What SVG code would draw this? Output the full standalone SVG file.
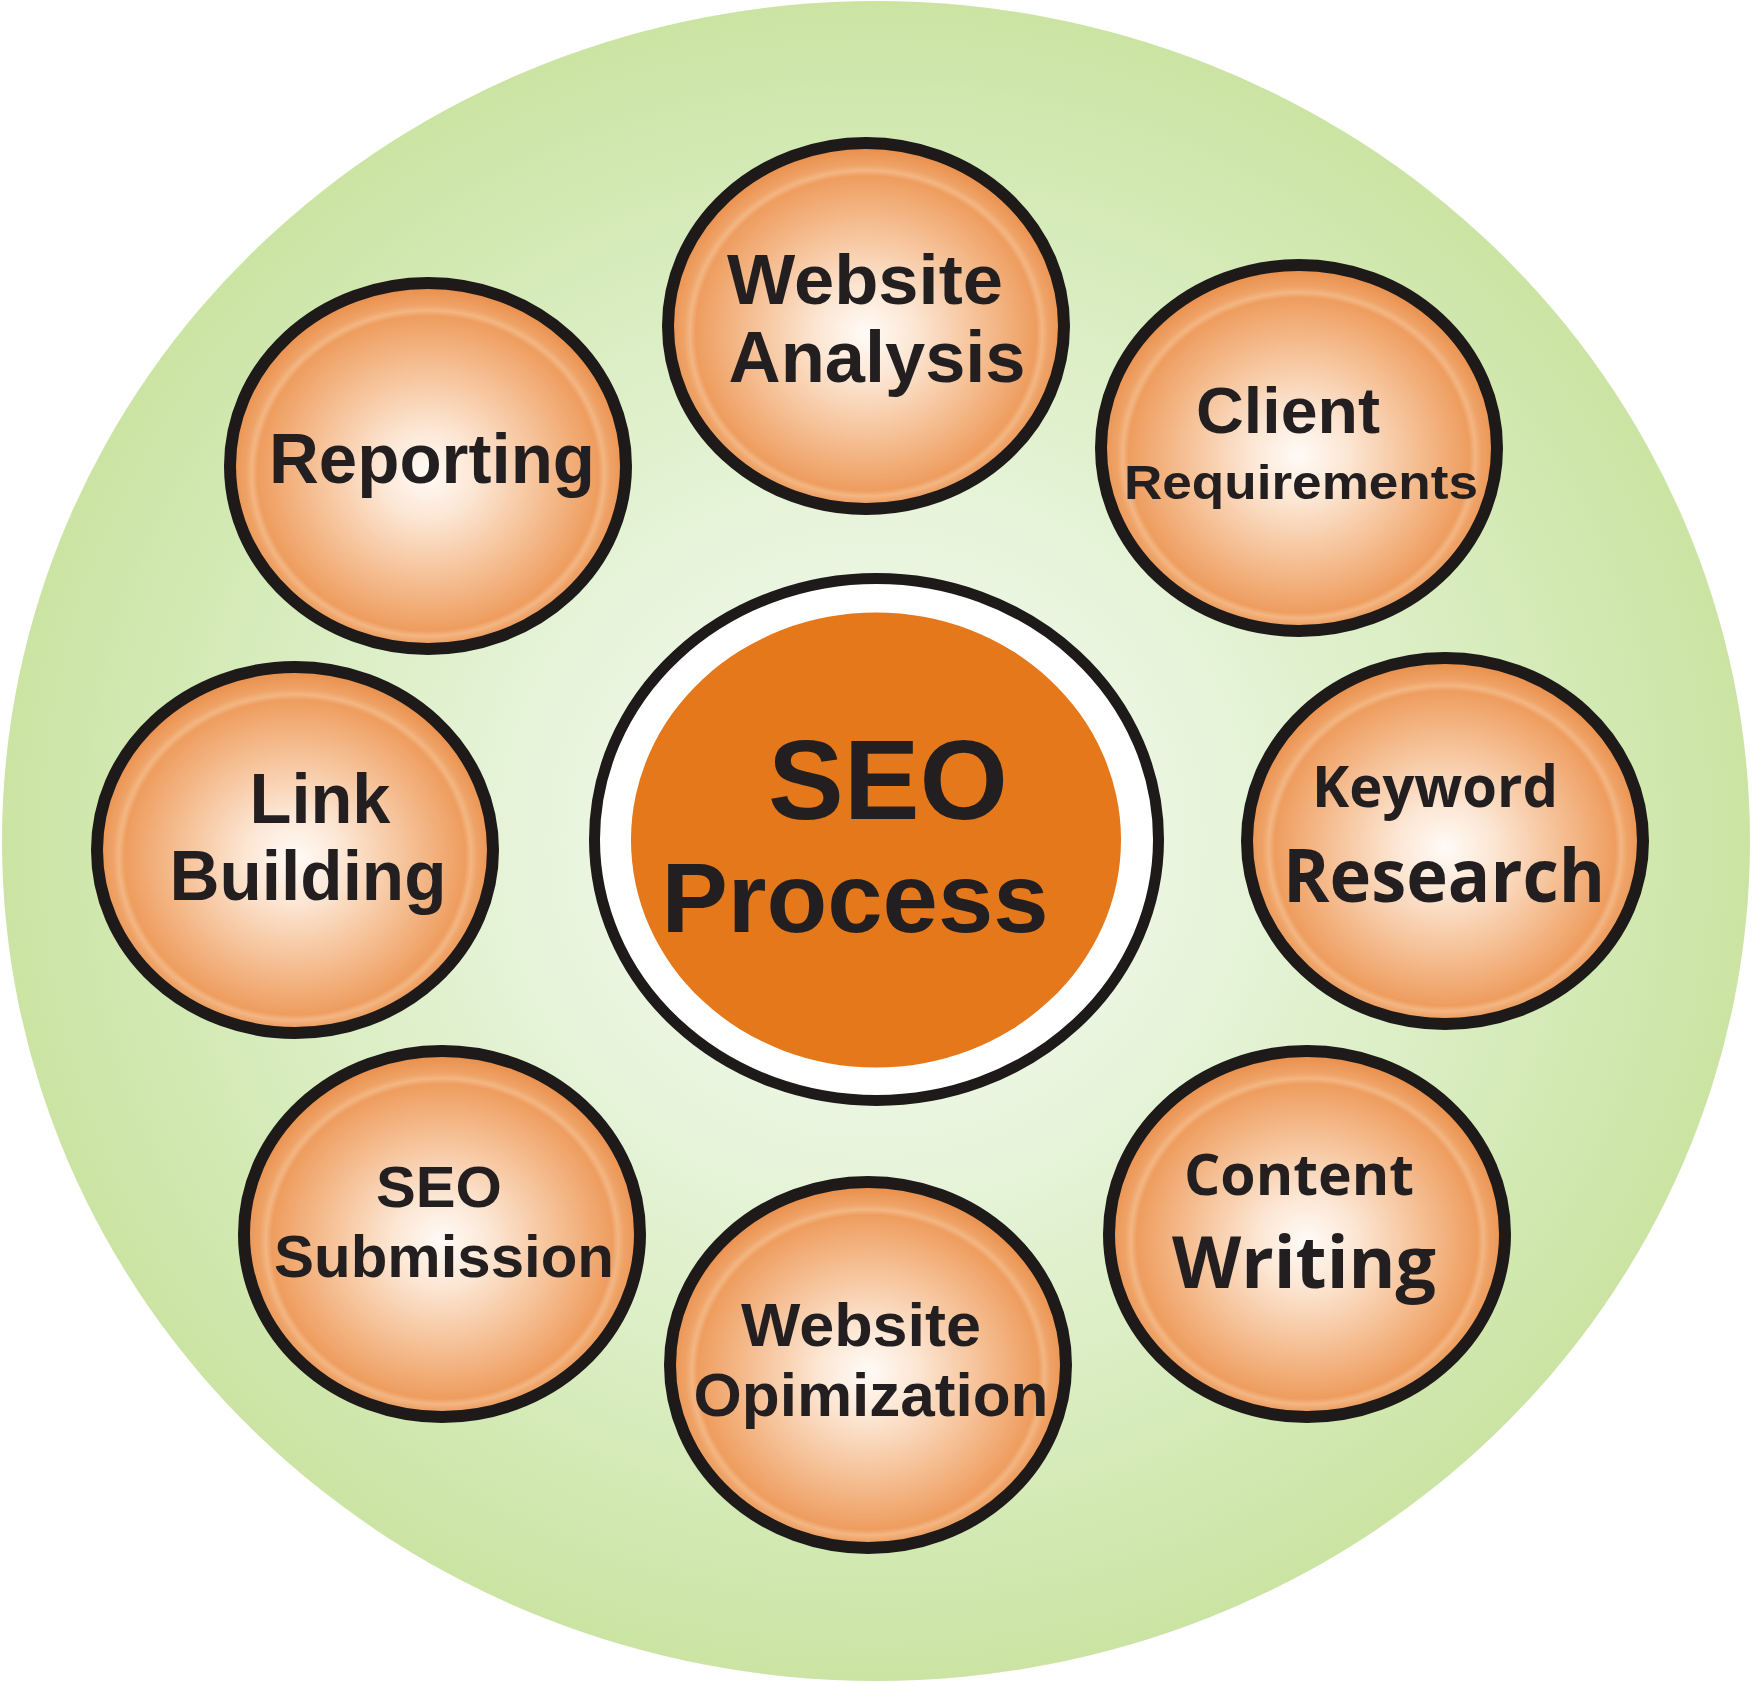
<svg xmlns="http://www.w3.org/2000/svg" width="1752" height="1682" viewBox="0 0 1752 1682">
  <defs>
    <radialGradient id="bgGreen" cx="50%" cy="50%" r="50%">
      <stop offset="0%" stop-color="#f4faef"/>
      <stop offset="35%" stop-color="#e9f5de"/>
      <stop offset="70%" stop-color="#d9edc0"/>
      <stop offset="100%" stop-color="#cbe4a3"/>
    </radialGradient>
    <radialGradient id="orb" cx="50%" cy="52%" r="50%">
      <stop offset="0%" stop-color="#fffbf7"/>
      <stop offset="25%" stop-color="#fce6d3"/>
      <stop offset="55%" stop-color="#f6c39a"/>
      <stop offset="80%" stop-color="#f0a56b"/>
      <stop offset="86%" stop-color="#ee9d5f"/>
      <stop offset="89%" stop-color="#f3b683"/>
      <stop offset="92%" stop-color="#efa367"/>
      <stop offset="100%" stop-color="#ea9250"/>
    </radialGradient>
  </defs>
  <style>
    .orb { fill: url(#orb); stroke: #1d1a19; stroke-width: 12; }
    .lbl { font-family: "Liberation Sans", Arial, sans-serif; font-weight: 700; fill: #231f20; text-anchor: middle; }
    .lbl2 { font-family: "Open Sans", "Liberation Sans", sans-serif; font-weight: 700; fill: #231f20; text-anchor: middle; }
  </style>
  <rect width="1752" height="1682" fill="#ffffff"/>
  <ellipse id="background" cx="876" cy="841" rx="874" ry="840" fill="url(#bgGreen)"/>
  <g id="connectors"/>

  <g id="center">
    <ellipse cx="876.5" cy="839.5" rx="282" ry="261" fill="#ffffff" stroke="#1d1a19" stroke-width="11"/>
    <ellipse cx="876" cy="840" rx="245" ry="227.5" fill="#e5781b"/>
    <text class="lbl" x="888" y="819" font-size="113" textLength="240" lengthAdjust="spacingAndGlyphs">SEO</text>
    <text class="lbl" x="855" y="932" font-size="99" textLength="387" lengthAdjust="spacingAndGlyphs">Process</text>
  </g>

  <g id="node-website-analysis">
    <ellipse class="orb" cx="866" cy="326" rx="198" ry="183"/>
    <text class="lbl" x="865" y="304" font-size="71" textLength="276" lengthAdjust="spacingAndGlyphs">Website</text>
    <text class="lbl" x="877" y="382" font-size="72" textLength="297" lengthAdjust="spacingAndGlyphs">Analysis</text>
  </g>

  <g id="node-client-requirements">
    <ellipse class="orb" cx="1299" cy="448" rx="198" ry="183"/>
    <text class="lbl" x="1288" y="433" font-size="65" textLength="184" lengthAdjust="spacingAndGlyphs">Client</text>
    <text class="lbl" x="1301" y="499" font-size="48" textLength="354" lengthAdjust="spacingAndGlyphs">Requirements</text>
  </g>

  <g id="node-keyword-research">
    <ellipse class="orb" cx="1445" cy="841" rx="198" ry="183"/>
    <text class="lbl2" x="1435" y="807" font-size="57" textLength="246" lengthAdjust="spacingAndGlyphs">Keyword</text>
    <text class="lbl2" x="1444" y="902" font-size="73" textLength="322" lengthAdjust="spacingAndGlyphs">Research</text>
  </g>

  <g id="node-content-writing">
    <ellipse class="orb" cx="1307" cy="1234" rx="198" ry="183"/>
    <text class="lbl2" x="1299" y="1195" font-size="58" textLength="230" lengthAdjust="spacingAndGlyphs">Content</text>
    <text class="lbl2" x="1304" y="1288" font-size="71" textLength="264" lengthAdjust="spacingAndGlyphs">Writing</text>
  </g>

  <g id="node-website-optimization">
    <ellipse class="orb" cx="868" cy="1365" rx="198" ry="183"/>
    <text class="lbl" x="861" y="1346" font-size="61" textLength="240" lengthAdjust="spacingAndGlyphs">Website</text>
    <text class="lbl" x="871" y="1416" font-size="62" textLength="355" lengthAdjust="spacingAndGlyphs">Opimization</text>
  </g>

  <g id="node-seo-submission">
    <ellipse class="orb" cx="442" cy="1234" rx="198" ry="183"/>
    <text class="lbl" x="439" y="1207" font-size="58" textLength="126" lengthAdjust="spacingAndGlyphs">SEO</text>
    <text class="lbl" x="444" y="1277" font-size="60" textLength="340" lengthAdjust="spacingAndGlyphs">Submission</text>
  </g>

  <g id="node-link-building">
    <ellipse class="orb" cx="295" cy="850" rx="198" ry="183"/>
    <text class="lbl" x="320" y="823" font-size="70" textLength="141" lengthAdjust="spacingAndGlyphs">Link</text>
    <text class="lbl" x="308" y="900" font-size="70" textLength="277" lengthAdjust="spacingAndGlyphs">Building</text>
  </g>

  <g id="node-reporting">
    <ellipse class="orb" cx="428" cy="466" rx="198" ry="183"/>
    <text class="lbl" x="432" y="483" font-size="70" textLength="326" lengthAdjust="spacingAndGlyphs">Reporting</text>
  </g>
</svg>
